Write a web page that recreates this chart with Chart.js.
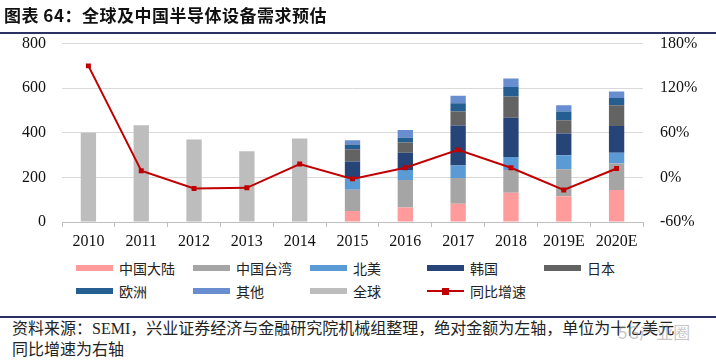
<!DOCTYPE html>
<html><head><meta charset="utf-8">
<script src="https://cdn.jsdelivr.net/npm/chart.js@4.4.1/dist/chart.umd.min.js"></script>
<style>
html,body{margin:0;padding:0;background:#fff;}
body{width:716px;height:362px;position:relative;overflow:hidden;font-family:"Noto Sans CJK SC","Noto Sans",sans-serif;}
#title{position:absolute;left:4px;top:2px;font-size:17px;font-weight:bold;color:#111;letter-spacing:0.5px;z-index:2;}
#rule1{position:absolute;left:0;top:32px;width:716px;height:2px;background:#2a3264;z-index:2;}
#wrap{position:absolute;left:0;top:17px;width:716px;height:243px;z-index:1;}
#legend{position:absolute;left:0;top:258px;width:716px;height:50px;}
.li{position:absolute;font-size:14px;color:#222;height:20px;line-height:20px;white-space:nowrap;}
.sw{position:absolute;left:0;top:7px;width:37px;height:6px;}
.lt{position:absolute;left:43px;top:0;}
#rule2{position:absolute;left:0;top:316px;width:716px;height:2px;background:#2a3264;}
#src{position:absolute;left:12px;top:318px;font-size:16px;line-height:21px;color:#222;font-family:"Liberation Serif","Noto Sans CJK SC",serif;}
#wm{position:absolute;left:618px;top:319px;font-size:17px;color:rgba(150,150,150,0.55);}
</style></head>
<body>
<div id="title">图表 64：全球及中国半导体设备需求预估</div>
<div id="rule1"></div>
<div id="wrap"><canvas id="c" width="716" height="243"></canvas></div>
<div id="legend"></div>
<div id="rule2"></div>
<div id="src">资料来源：SEMI，兴业证券经济与金融研究院机械组整理，绝对金额为左轴，单位为十亿美元<br>同比增速为右轴</div>
<div id="wm">5G产业圈</div>
<script>
const years = ['2010','2011','2012','2013','2014','2015','2016','2017','2018','2019E','2020E'];
const globalTotal = [400,434,370,317,375,null,null,null,null,null,null];
const chinaMainland = [null,null,null,null,null,49,65,82,131,115,144];
const taiwan = [null,null,null,null,null,96,123,115,102,122,118];
const northAmerica = [null,null,null,null,null,51,45,56,58,62,49];
const korea = [null,null,null,null,null,75,77,180,177,98,119];
const japan = [null,null,null,null,null,55,46,62,95,59,93];
const europe = [null,null,null,null,null,22,22,37,42,40,33];
const others = [null,null,null,null,null,19,35,34,38,27,29];
const growth = [150,9,-15,-14,18,-2,13,37,13,-17,12];
const leftTicks = [0,200,400,600,800];
const rightTicks = [-60,0,60,120,180];

const barSeries = [
  ['中国大陆', chinaMainland, '#ff9b9b'],
  ['中国台湾', taiwan, '#a5a5a5'],
  ['北美', northAmerica, '#5b9bd5'],
  ['韩国', korea, '#264478'],
  ['日本', japan, '#636363'],
  ['欧洲', europe, '#255e91'],
  ['其他', others, '#698ed0'],
  ['全球', globalTotal, '#bdbdbd']
];
const lineColor = '#c00000';

const datasets = barSeries.map(([name, data, color]) => ({
  type:'bar', label:name, data:data, backgroundColor:color, borderWidth:0,
  yAxisID:'y', stack:'s', order:1, categoryPercentage:1, barPercentage:0.29
}));
datasets.push({
  type:'line', label:'同比增速', data:growth, yAxisID:'y1', borderColor:lineColor,
  backgroundColor:lineColor, borderWidth:2, pointStyle:'rect', pointRadius:3.5,
  pointBackgroundColor:lineColor, pointBorderWidth:0, tension:0, order:0
});

const tickFont = {family:'"Liberation Serif","Times New Roman",serif', size:16};
new Chart(document.getElementById('c'), {
  data:{labels:years, datasets:datasets},
  options:{
    responsive:false, animation:false,
    layout:{padding:{top:0,bottom:0,left:0,right:0}},
    plugins:{legend:{display:false}, tooltip:{enabled:false}},
    scales:{
      x:{stacked:true, offset:true,
        grid:{display:true, offset:true, drawOnChartArea:false, drawTicks:true, tickLength:5, color:'#bfbfbf'},
        border:{display:true, color:'#bfbfbf'},
        ticks:{font:tickFont, color:'#111', padding:5, maxRotation:0, autoSkip:false},
        afterFit:(s)=>{s.height=38;}
      },
      y:{stacked:true, position:'left', min:0, max:800,
        afterBuildTicks:(s)=>{s.ticks=leftTicks.map(v=>({value:v}));},
        grid:{color:'#d9d9d9', drawTicks:false}, border:{display:false},
        ticks:{font:tickFont, color:'#111', padding:16},
        afterFit:(s)=>{s.width=62;}
      },
      y1:{stacked:false, position:'right', min:-60, max:180,
        afterBuildTicks:(s)=>{s.ticks=rightTicks.map(v=>({value:v}));},
        grid:{display:false, drawTicks:false}, border:{display:false},
        ticks:{font:tickFont, color:'#111', padding:17, callback:(v)=>v+'%'},
        afterFit:(s)=>{s.width=73;}
      }
    }
  }
});

// legend
const legendItems = barSeries.map(([n,,c])=>({name:n,color:c,line:false}));
legendItems.push({name:'同比增速',color:lineColor,line:true});
const lg = document.getElementById('legend');
legendItems.forEach((it,i)=>{
  const col = i%5, row = Math.floor(i/5);
  const d = document.createElement('div');
  d.className='li';
  d.style.left = (76 + col*117) + 'px';
  d.style.top = (row*23) + 'px';
  let sw;
  if(it.line){
    sw = '<div style="position:absolute;left:0;top:9px;width:37px;height:2px;background:'+it.color+'"></div>'+
         '<div style="position:absolute;left:15px;top:6.5px;width:7px;height:7px;background:'+it.color+'"></div>';
  } else {
    sw = '<div class="sw" style="background:'+it.color+'"></div>';
  }
  d.innerHTML = sw + '<span class="lt">'+it.name+'</span>';
  lg.appendChild(d);
});
</script>
</body></html>
